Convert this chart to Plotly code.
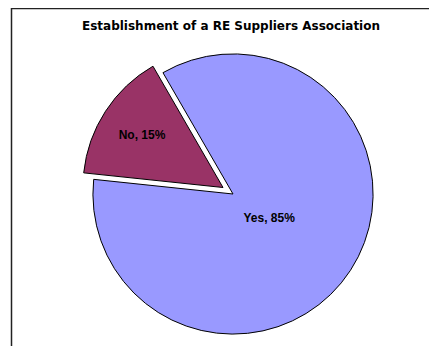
import plotly.graph_objects as go

labels = ["Yes", "No"]
values = [85, 15]
colors = ["#9999FF", "#993366"]
pulls = [0, 0.085]
title = "Establishment of a RE Suppliers Association"

# page body has an 8px margin, so the figure is 8px smaller than the window
W, H = 429, 338
CX, CY = 225, 186          # pie centre in figure pixels (from top-left)
BOX = 304                  # pie box size for main pie
BOX_TXT = 188              # smaller concentric box used only to place the "Yes" label


def dom(box):
    return dict(x=[(CX - box / 2) / W, (CX + box / 2) / W],
                y=[(H - CY - box / 2) / H, (H - CY + box / 2) / H])


font = dict(family="Liberation Sans", size=12, color="black", weight="bold")
tmpl = "%{label}, %{percent:.0%}"

fig = go.Figure()
fig.add_trace(go.Pie(
    labels=labels, values=values, pull=pulls, sort=False,
    direction="clockwise", rotation=-30,
    marker=dict(colors=colors, line=dict(color="black", width=1)),
    texttemplate=["", tmpl],
    textposition="inside", insidetextorientation="horizontal",
    textfont=font, showlegend=False, hoverinfo="label+percent",
    domain=dom(BOX),
))
fig.add_trace(go.Pie(
    labels=labels, values=values, pull=pulls, sort=False,
    direction="clockwise", rotation=-30,
    marker=dict(colors=["rgba(0,0,0,0)"] * len(labels), line=dict(width=0)),
    texttemplate=[tmpl, ""],
    textposition="inside", insidetextorientation="horizontal",
    textfont=font, showlegend=False, hoverinfo="skip",
    domain=dom(BOX_TXT),
))

fig.update_layout(
    width=W, height=H,
    margin=dict(l=0, r=0, t=0, b=0),
    paper_bgcolor="white", plot_bgcolor="white",
    title=dict(text="<b>" + title + "</b>", x=223 / W, xanchor="center",
               y=1 - 18 / H, yanchor="middle",
               font=dict(family="DejaVu Sans", size=12, color="black")),
    shapes=[dict(type="rect", xref="paper", yref="paper",
                 x0=3.5 / W, x1=1.05, y0=-0.05, y1=1 - 0.5 / H,
                 line=dict(color="#222222", width=1.5), fillcolor="rgba(0,0,0,0)")],
)

fig.write_html("out.html")
